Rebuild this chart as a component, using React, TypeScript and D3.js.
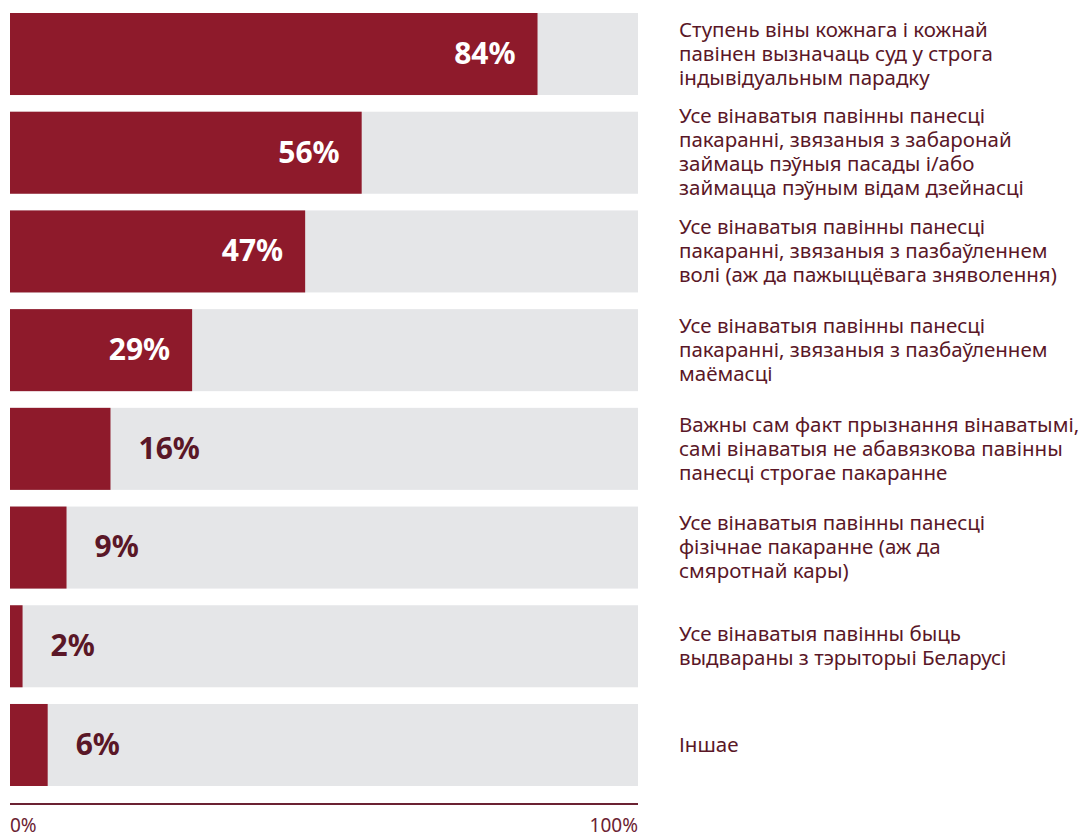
import React, { useRef, useEffect } from 'react';
import * as d3 from 'd3';

const categories: string[][] = [
    ['Ступень віны кожнага і кожнай', 'павінен вызначаць суд у строга', 'індывідуальным парадку'],
    ['Усе вінаватыя павінны панесці', 'пакаранні, звязаныя з забаронай', 'займаць пэўныя пасады і/або', 'займацца пэўным відам дзейнасці'],
    ['Усе вінаватыя павінны панесці', 'пакаранні, звязаныя з пазбаўленнем', 'волі (аж да пажыццёвага зняволення)'],
    ['Усе вінаватыя павінны панесці', 'пакаранні, звязаныя з пазбаўленнем', 'маёмасці'],
    ['Важны сам факт прызнання вінаватымі,', 'самі вінаватыя не абавязкова павінны', 'панесці строгае пакаранне'],
    ['Усе вінаватыя павінны панесці', 'фізічнае пакаранне (аж да', 'смяротнай кары)'],
    ['Усе вінаватыя павінны быць', 'выдвараны з тэрыторыі Беларусі'],
    ['Іншае'],
];
const values = [84, 56, 47, 29, 16, 9, 2, 6];
const tickLabels = ['0%', '100%'];

export default function App() {
    const svgRef = useRef<SVGSVGElement | null>(null);

    useEffect(() => {
        const width = 1087;
        const height = 838;
        const font = "'Noto Sans', sans-serif";
        const barColor = '#8e1a2b';
        const bgColor = '#e5e6e8';
        const textColor = '#5a1727';

        d3.select(svgRef.current).selectAll('*').remove();
        const svg = d3.select(svgRef.current).attr('width', width).attr('height', height);

        const x = d3.scaleLinear().domain([0, 100]).range([10, 638]);
        const y = d3
            .scaleBand<number>()
            .domain(d3.range(values.length))
            .range([13, 786])
            .paddingInner(0.169)
            .paddingOuter(0);

        values.forEach((v, i) => {
            const y0 = y(i)!;
            const bh = y.bandwidth();
            svg.append('rect')
                .attr('x', x(0)).attr('y', y0)
                .attr('width', x(100) - x(0)).attr('height', bh)
                .attr('fill', bgColor);
            svg.append('rect')
                .attr('x', x(0)).attr('y', y0)
                .attr('width', x(v) - x(0)).attr('height', bh)
                .attr('fill', barColor);

            const inside = v >= 25;
            svg.append('text')
                .attr('x', inside ? x(v) - 22 : x(v) + 28)
                .attr('y', y0 + bh / 2)
                .attr('dy', '0.33em')
                .attr('text-anchor', inside ? 'end' : 'start')
                .attr('fill', inside ? '#ffffff' : textColor)
                .attr('font-family', font)
                .attr('font-weight', 'bold')
                .attr('font-size', 30)
                .text(v + '%');

            const lines = categories[i];
            const lh = 24;
            const cy = y0 + bh / 2 - ((lines.length - 1) * lh) / 2;
            const t = svg.append('text')
                .attr('x', 679)
                .attr('fill', textColor)
                .attr('font-family', font)
                .attr('font-size', 20.5);
            lines.forEach((l, j) => {
                t.append('tspan')
                    .attr('x', 679)
                    .attr('y', cy + j * lh)
                    .attr('dy', '0.33em')
                    .text(l);
            });
        });

        svg.append('line')
            .attr('x1', x(0)).attr('x2', x(100))
            .attr('y1', 804).attr('y2', 804)
            .attr('stroke', '#6b2232')
            .attr('stroke-width', 2);

        [0, 100].forEach((d, i) => {
            svg.append('text')
                .attr('x', x(d))
                .attr('y', 832)
                .attr('text-anchor', i === 0 ? 'start' : 'end')
                .attr('fill', '#6b2232')
                .attr('font-family', font)
                .attr('font-size', 19)
                .text(tickLabels[i]);
        });
    }, []);

    return <svg ref={svgRef} style={{ position: 'absolute', left: 0, top: 0 }}></svg>;
}
